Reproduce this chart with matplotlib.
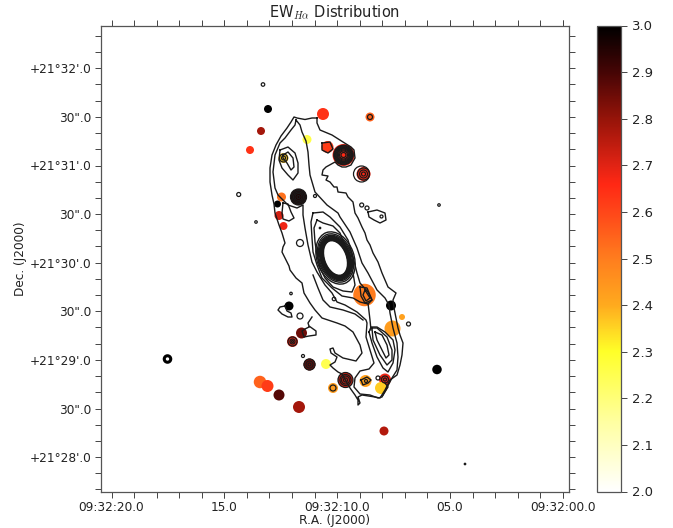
import numpy as np
import matplotlib
matplotlib.use('Agg')
import matplotlib.pyplot as plt
from matplotlib.colors import LinearSegmentedColormap
from matplotlib.patches import Ellipse

plt.rcParams['mathtext.fontset'] = 'cm'

# everything is in image pixel coordinates, like a WCS plot of a fits file
# knots: x, y, diameter, log EW
knot_x = [323, 370, 268, 261, 250, 307, 327.5, 343.5, 363.5, 283.5, 298.5, 281.5, 277.5, 279, 283.5, 364.5, 391, 289,
          402, 392.5, 301.5, 292.5, 309.5, 326, 345.5, 365.5, 385, 381, 333, 260, 267.5, 279, 299, 384, 437]
knot_y = [114, 117, 109, 131, 150, 139.5, 147, 155, 174, 158, 197, 197, 204, 215.5, 226, 295, 305.5, 306,
          317, 328.5, 333, 341.5, 364.5, 364, 380, 381, 379.5, 388, 388, 382, 386, 395, 407, 431, 369.5]
knot_d = [12, 9, 8, 8, 8, 9, 12, 22, 14, 10, 16, 9, 7, 9, 8, 22.5, 10, 9,
          6, 16, 11, 11, 12, 10, 15, 12, 12, 12, 10, 12.5, 12, 11, 12, 9, 9.5]
knot_ew = [2.64, 2.55, 3.0, 2.78, 2.64, 2.26, 2.62, 2.66, 2.66, 2.36, 2.95, 2.52, 3.0, 2.72, 2.68, 2.5, 3.0, 3.0,
           2.42, 2.43, 2.85, 2.7, 2.85, 2.25, 2.72, 2.42, 2.68, 2.36, 2.43, 2.55, 2.62, 2.88, 2.78, 2.76, 3.0]

# colour bar
cbar_pos = [0.0, 0.15, 0.3, 0.4, 0.5, 0.6, 0.66, 0.7, 0.8, 0.9, 1.0]
cbar_col = ['#ffffff', '#ffffa0', '#ffff28', '#ffaa1e', '#ff7d1e', '#ff4619', '#ff2814', '#e12314', '#961409', '#460505',
            '#000000']

# contours traced by hand
a_x = [317, 312, 305, 297, 294, 291, 287, 281, 276, 272, 270, 270, 272, 274, 275, 279, 282, 285, 283, 282, 286, 289, 290, 296, 302, 304,
       310, 315, 322, 337, 345, 353, 360, 362, 356, 343, 335, 333, 330, 331, 337, 335, 330, 333, 338, 342, 350, 355, 358, 358, 360, 358,
       362, 375, 380, 385, 390, 397, 400, 402, 403, 400, 398, 396, 394, 393, 396, 388, 382, 378, 373, 370, 367, 365, 362, 358, 355, 353,
       348, 346, 338, 337, 334, 330, 326, 328, 322, 323, 326, 335, 338, 342, 346, 351, 355, 354, 351, 343, 332, 320, 317, 317]
a_y = [118, 118, 119.5, 118, 117, 122, 128, 136, 145, 155, 168, 182, 195, 204, 213, 225, 233, 243, 247, 252, 260, 266, 270, 278, 283, 293,
       303, 310, 318, 323, 326, 332, 345, 353, 361, 358, 353, 348, 349, 353, 357, 362, 365, 368, 372, 374, 388, 395, 400, 405, 403, 397,
       395, 397, 398, 390, 380, 375, 365, 355, 343, 335, 328, 318, 308, 300, 293, 287, 273, 262, 253, 245, 240, 233, 227, 218, 213, 202,
       197, 193, 192, 187, 187, 182, 180, 176, 175, 170, 167, 162, 165, 167, 167, 165, 158, 150, 147, 142, 135, 130, 123, 118]
b_x = [296, 300, 302, 306, 308, 309, 310, 315, 327, 338, 340, 350, 357, 362, 368, 377, 385, 389, 390, 393, 397, 398, 397, 392, 382,
       378, 370, 360, 354, 355, 360, 369, 374, 370, 366, 367, 366, 357, 345, 337, 332, 325, 317, 312, 308, 305, 303, 303, 297,
       288, 278, 275, 273, 275, 280, 285, 291, 295, 296]
b_y = [120, 125, 132, 141, 152, 165, 175, 192, 205, 213, 217, 232, 248, 263, 273, 290, 298, 305, 313, 328, 343, 357, 370, 378, 397,
       398, 395, 394, 387, 378, 371, 369, 363, 350, 337, 323, 320, 312, 305, 302, 293, 285, 272, 262, 245, 228, 215, 205, 208,
       205, 195, 188, 172, 155, 143, 138, 130, 125, 120]
c1_x = [313, 311, 312, 313, 317, 322, 332, 342, 353, 360, 368, 372, 368, 360, 357, 353, 348, 340, 330, 323, 313]
c1_y = [213, 222, 238, 252, 265, 278, 288, 296, 298, 302, 304, 300, 292, 283, 273, 257, 240, 227, 217, 212, 213]
c2_x = [317, 314, 315, 317, 320, 325, 333, 343, 352, 355, 353, 350, 346, 340, 333, 323, 317]
c2_y = [220, 228, 242, 255, 268, 278, 287, 291, 292, 285, 273, 263, 248, 233, 226, 223, 220]
d1_x = [280, 288, 295, 298, 298, 293, 288, 282, 279, 280]
d1_y = [150, 147, 153, 163, 173, 180, 175, 168, 160, 150]
d2_x = [283, 288, 293, 294, 291, 287, 283, 283]
d2_y = [155, 152, 158, 167, 170, 163, 158, 155]
l1_x = [369, 372, 377, 383, 388, 393, 395, 393, 385, 377, 371, 369]
l1_y = [332, 343, 357, 368, 372, 363, 350, 340, 332, 327, 327, 332]
l2_x = [372, 377, 387, 392, 392, 387, 380, 373, 372]
l2_y = [328, 328, 337, 350, 360, 365, 355, 340, 328]
l3_x = [375, 382, 387, 389, 386, 382, 377, 375]
l3_y = [332, 335, 345, 355, 358, 350, 340, 332]
e_x = [368, 370, 371]
e_y = [303, 320, 330]
f_x = [385, 388, 383]
f_y = [383, 387, 395]
g_x = [312, 308, 309, 316, 316, 309, 304, 302, 305, 309]
g_y = [317, 323, 326, 331, 335, 336, 337, 331, 329, 327]
h_x = [285, 280, 278, 282, 288, 292, 291, 287, 285]
h_y = [306, 307, 310, 314, 317, 317, 313, 311, 306]
i_x = [368, 377, 385, 386, 380, 374, 369, 368]
i_y = [212, 210, 213, 220, 223, 220, 217, 212]
j_x = [283, 288, 291, 294, 289, 283, 282, 283]
j_y = [203, 204, 212, 218, 221, 219, 213, 203]
k_x = [322, 330, 333, 328, 322, 322]
k_y = [143, 142, 149, 153, 150, 143]
m_x = [361, 367, 371, 368, 363, 361]
m_y = [380, 377, 380, 383, 385, 380]
n_x = [360, 367, 372, 365, 361, 360]
n_y = [287, 288, 300, 303, 296, 287]
o_x = [365, 370, 366, 363, 365]
o_y = [290, 298, 301, 295, 290]
p_x = [313, 318, 323, 330, 343, 355, 363]
p_y = [275, 288, 300, 307, 310, 314, 320]
contours = [(a_x, a_y), (b_x, b_y), (c1_x, c1_y), (c2_x, c2_y), (d1_x, d1_y), (d2_x, d2_y), (l1_x, l1_y), (l2_x, l2_y),
            (l3_x, l3_y), (e_x, e_y), (f_x, f_y), (g_x, g_y), (h_x, h_y), (i_x, i_y), (j_x, j_y), (k_x, k_y),
            (m_x, m_y), (n_x, n_y), (o_x, o_y), (p_x, p_y)]

# nucleus rings
core_x = 335.5
core_y = 258
core_w = [22, 23, 24, 25, 26, 27, 28, 29, 30, 32, 34, 37]
core_h = [36, 37, 38, 39, 40, 41, 42, 43.5, 45, 47, 50, 54]

# small closed contours: x, y, diameter
ring_x = [343.5, 343.5, 343.5, 343.5, 343.5, 343.5, 343.5, 343.5, 343.5, 361.5, 363.5, 363.5, 363.5, 298.5, 298.5, 298.5, 298.5, 298.5, 283.5, 283.5,
          292.5, 292.5, 292.5, 309.5, 309.5, 309.5, 345.5, 345.5, 345.5, 345.5, 385, 385, 333, 366, 370,
          263, 238.7, 256, 439, 315, 381.5, 361.7, 367, 300, 291, 303, 408.5, 300, 334, 320, 378, 465]
ring_y = [155, 155, 155, 155, 155, 155, 155, 155, 155, 174, 174, 174, 174, 197, 197, 197, 197, 197, 158, 158,
          341.5, 341.5, 341.5, 364.5, 364.5, 364.5, 380, 380, 380, 380, 379.5, 379.5, 388, 381, 117,
          84.5, 194.5, 222, 205, 196, 216.5, 205, 208, 316, 293.5, 356, 324, 243, 299, 228, 378, 464]
ring_d = [19.5, 18, 16.5, 15, 13.5, 12, 10, 8, 5, 16, 12, 8, 4, 16, 13, 10, 7, 3, 8, 4,
          9, 5, 2, 11, 7, 3, 15, 11, 8, 4, 7, 3, 6, 3, 5,
          3.5, 4, 2.5, 2.5, 3, 3, 4, 4, 6, 2.5, 3, 4, 7, 3.5, 1.5, 4, 1.5]

xmajor = [111.5, 224.3, 337.2, 450, 562.8]
xlabels = ['09:32:20.0', '15.0', '09:32:10.0', '05.0', '09:32:00.0']
ymajor = [68.3, 116.9, 165.5, 214.1, 262.7, 311.3, 359.9, 408.5, 457.1]
ylabels = ["+21\u00b032'.0", '30".0', "+21\u00b031'.0", '30".0', "+21\u00b030'.0", '30".0', "+21\u00b029'.0", '30".0',
           "+21\u00b028'.0"]

W, H = 673.0, 528.0
fig = plt.figure(figsize=(6.73, 5.28), dpi=100)
ax = fig.add_axes([101 / W, 1 - 491.5 / H, 467.7 / W, 466 / H])
cax = fig.add_axes([597.4 / W, 1 - 491.5 / H, 24 / W, 466 / H])

pts = 0.72  # px -> pt at dpi 100
cmap = LinearSegmentedColormap.from_list('ew', list(zip(cbar_pos, cbar_col)), N=512)
sc = ax.scatter(knot_x, knot_y, s=(np.array(knot_d) * pts) ** 2, c=knot_ew, cmap=cmap, vmin=2.0, vmax=3.0,
                linewidths=0, zorder=2)
for cx, cy in contours:
    ax.plot(cx, cy, color='#1a1a1a', lw=1.0, zorder=3)
for w, h in zip(core_w, core_h):
    ax.add_patch(Ellipse((core_x, core_y), w, h, angle=-20, fill=False, ec='#1a1a1a', lw=1.0, zorder=3))
ax.scatter(ring_x, ring_y, s=(np.array(ring_d) * pts) ** 2, facecolors='none', edgecolors='#1a1a1a', linewidths=0.9, zorder=3)
ax.scatter([167.5], [359], s=(6.5 * pts) ** 2, facecolors='none', edgecolors='k', linewidths=2.2, zorder=3)

ax.set_xticks(xmajor)
ax.set_xticklabels(xlabels)
ax.set_yticks(ymajor)
ax.set_yticklabels(ylabels)
ax.set_xticks(np.arange(111.5, 568, 22.57), minor=True)
ax.set_yticks(np.arange(35.9, 491, 16.2), minor=True)
ax.set_xlim(101, 568.7)
ax.set_ylim(491.5, 25.5)
ax.tick_params(which='both', top=True, right=True, length=4, width=0.7, color='#444444', labelcolor='#222222',
               labelsize=8.7, pad=3)
for s in ax.spines.values():
    s.set_color('#555555')
    s.set_linewidth(0.9)
ax.set_xlabel('R.A. (J2000)', fontsize=8.7, color='#222222', labelpad=0)
ax.set_ylabel('Dec. (J2000)', fontsize=8.7, color='#222222', labelpad=2)
ax.set_title(r'EW$_{H\alpha}$ Distribution', fontsize=10.5, color='#222222', pad=6)

cb = fig.colorbar(sc, cax=cax)
cb.set_ticks([2.0, 2.1, 2.2, 2.3, 2.4, 2.5, 2.6, 2.7, 2.8, 2.9, 3.0])
cb.ax.tick_params(length=4, width=0.7, color='#444444', labelcolor='#222222', labelsize=9.5)
cb.outline.set_edgecolor('#555555')
cb.outline.set_linewidth(0.9)

plt.savefig('out.png', dpi=100)
